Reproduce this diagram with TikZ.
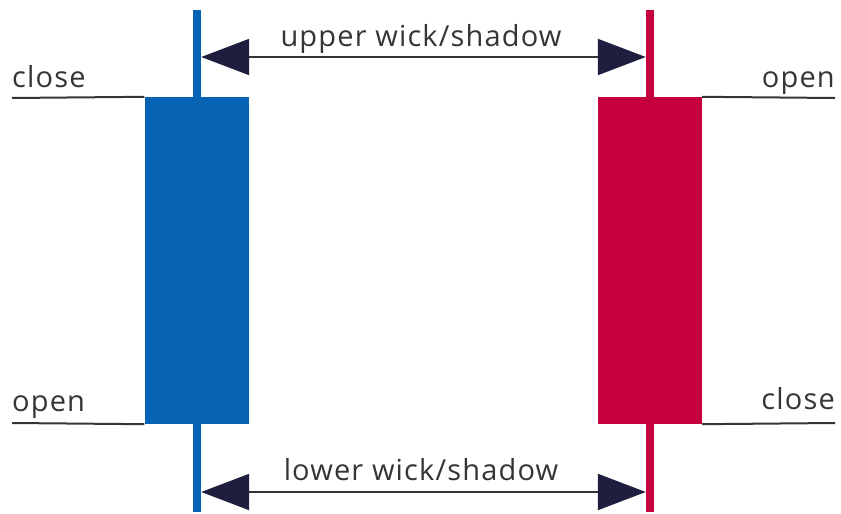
\documentclass[tikz,border=0pt]{standalone}
\usepackage{fontspec}
\setmainfont{Open Sans}[LetterSpace=4]
\usetikzlibrary{arrows.meta}
\definecolor{bullblue}{HTML}{0663B4}
\definecolor{bearred}{HTML}{C5003C}
\definecolor{tipnavy}{HTML}{1E1E3E}
\definecolor{linegray}{HTML}{353535}
\begin{document}
\begin{tikzpicture} [x=1pt, y=-1pt,
    body/.style={draw=none, minimum width=104pt, minimum height=327pt, inner sep=0pt},
    wick/.style={draw=none, minimum width=8pt, minimum height=502pt, inner sep=0pt},
    priceline/.style={linegray, line width=2pt},
    span/.style={linegray, line width=2pt,
        {Triangle[length=48pt, width=36pt, color=tipnavy]}-{Triangle[length=48pt, width=36pt, color=tipnavy]}},
    label/.style={inner sep=0pt, font=\fontsize{29}{34}\selectfont, text=linegray}]
    \useasboundingbox (0,0) rectangle (841,514);
    % wicks and bodies
    \node[wick, fill=bullblue] (bwick) at (197,261) {};
    \node[wick, fill=bearred] (rwick) at (650,261) {};
    \node[body, fill=bullblue] (bbody) at (196.5,260.5) {};
    \node[body, fill=bearred] (rbody) at (650,260.5) {};
    % price levels
    \coordinate (lclose) at (12,98);
    \coordinate (lopen) at (12,423);
    \coordinate (ropen) at (835,98);
    \coordinate (rclose) at (835,423);
    \draw[priceline] (lclose) -- (bbody.north west);
    \draw[priceline] (lopen) -- (bbody.south west);
    \draw[priceline] (rbody.north east) -- (ropen);
    \draw[priceline] (rbody.south east) -- (rclose);
    \node[label, anchor=base west] (lclosetxt) at (12,87) {close};
    \node[label, anchor=base west] (lopentxt) at (12,411) {open};
    \node[label, anchor=base east] (ropentxt) at (835,87) {open};
    \node[label, anchor=base east] (rclosetxt) at (835,409) {close};
    % shadows
    \draw[span] (bwick.east |- 0,57) -- (rwick.west |- 0,57);
    \draw[span] (bwick.east |- 0,492) -- (rwick.west |- 0,492);
    \node[label, anchor=base] (uppertxt) at (421,46) {upper wick/shadow};
    \node[label, anchor=base] (lowertxt) at (421,480) {lower wick/shadow};
\end{tikzpicture}
\end{document}
